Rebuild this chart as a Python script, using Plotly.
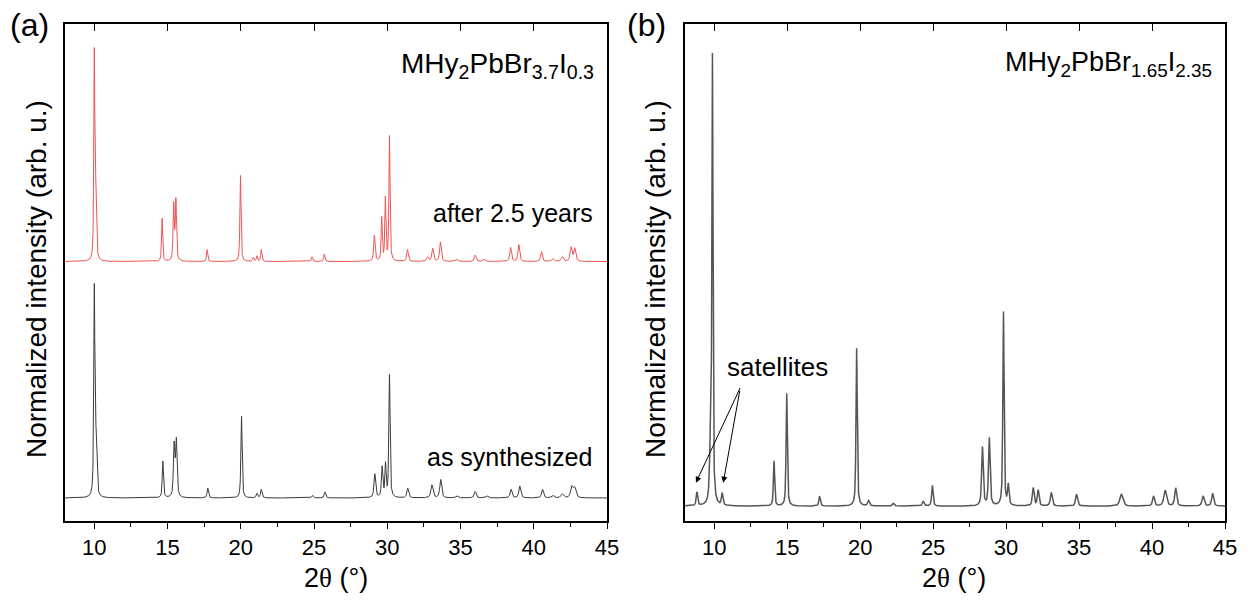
import numpy as np
import plotly.graph_objects as go

# ---------------- data (peak lists) ----------------
# Panel (a) as synthesized: position (2theta), normalized height, FWHM
a_syn_pos = [10.0, 10.12, 14.68, 15.45, 15.6, 17.75, 20.05, 21.1, 21.4, 24.9, 25.75,
             29.15, 29.65, 29.88, 30.15, 31.4, 33.05, 33.65, 34.75, 36.0, 36.8,
             38.45, 39.05, 40.6, 41.3, 41.95, 42.6, 42.8]
a_syn_h = [0.96, 0.25, 0.17, 0.24, 0.26, 0.045, 0.38, 0.02, 0.04, 0.012, 0.028,
           0.11, 0.14, 0.15, 0.57, 0.045, 0.06, 0.085, 0.01, 0.03, 0.01,
           0.04, 0.055, 0.04, 0.012, 0.018, 0.05, 0.045]
a_syn_w = [0.09, 0.12, 0.1, 0.12, 0.12, 0.12, 0.1, 0.12, 0.12, 0.12, 0.12,
           0.14, 0.12, 0.1, 0.1, 0.15, 0.18, 0.16, 0.2, 0.16, 0.2,
           0.16, 0.16, 0.16, 0.2, 0.2, 0.2, 0.2]

# Panel (a) after 2.5 years
a_old_pos = [10.0, 10.1, 14.63, 15.42, 15.57, 17.7, 19.98, 20.85, 21.1, 21.4, 24.86, 25.7,
             29.12, 29.62, 29.87, 30.15, 31.38, 32.75, 33.1, 33.63, 34.73, 36.0, 36.6,
             38.42, 38.98, 40.53, 41.3, 41.95, 42.55, 42.8]
a_old_h = [0.95, 0.3, 0.2, 0.26, 0.28, 0.055, 0.4, 0.018, 0.025, 0.055, 0.022, 0.035,
           0.12, 0.2, 0.29, 0.58, 0.055, 0.02, 0.06, 0.09, 0.01, 0.03, 0.01,
           0.065, 0.078, 0.045, 0.014, 0.022, 0.065, 0.06]
a_old_w = [0.08, 0.1, 0.09, 0.1, 0.1, 0.1, 0.09, 0.1, 0.1, 0.1, 0.1, 0.1,
           0.12, 0.09, 0.09, 0.09, 0.13, 0.15, 0.15, 0.14, 0.2, 0.15, 0.2,
           0.14, 0.14, 0.14, 0.18, 0.18, 0.16, 0.16]

# Panel (b) MHy2PbBr1.65I2.35
b_pos = [8.82, 9.75, 9.88, 10.55, 14.1, 14.97, 17.22, 19.76, 20.58, 22.27, 24.32, 24.95,
         28.38, 28.85, 29.82, 30.15, 31.86, 32.2, 33.1, 34.83, 37.9, 40.1, 40.9,
         41.62, 43.5, 44.15]
b_h = [0.03, 0.12, 0.98, 0.026, 0.1, 0.25, 0.022, 0.35, 0.012, 0.006, 0.01, 0.046,
       0.13, 0.15, 0.43, 0.045, 0.04, 0.035, 0.03, 0.026, 0.026, 0.022, 0.035,
       0.04, 0.022, 0.028]
b_w = [0.12, 0.15, 0.09, 0.12, 0.1, 0.1, 0.12, 0.1, 0.15, 0.15, 0.15, 0.12,
       0.13, 0.13, 0.1, 0.12, 0.14, 0.14, 0.16, 0.16, 0.25, 0.16, 0.22,
       0.16, 0.18, 0.16]

a_offset = 1.1          # vertical offset of the aged pattern
x_ticks = [10, 15, 20, 25, 30, 35, 40, 45]

# ---------------- profile rendering ----------------
tt = np.arange(8.0, 45.0001, 0.01)


def profile(pos, h, w, eta=0.65):
    y = np.zeros_like(tt)
    for p, hh, ww in zip(pos, h, w):
        d = (tt - p) / (ww / 2)
        lor = 1 / (1 + d ** 2)
        gau = np.exp(-np.log(2) * d ** 2)
        y += hh * (eta * lor + (1 - eta) * gau)
    return y


y_syn = profile(a_syn_pos, a_syn_h, a_syn_w)
y_old = profile(a_old_pos, a_old_h, a_old_w) + a_offset
y_b = profile(b_pos, b_h, b_w)

fig = go.Figure()
fig.add_trace(go.Scatter(x=tt, y=y_old, mode="lines", line=dict(color="#f05252", width=1),
                         xaxis="x", yaxis="y", showlegend=False))
fig.add_trace(go.Scatter(x=tt, y=y_syn, mode="lines", line=dict(color="#3a3a3a", width=1),
                         xaxis="x", yaxis="y", showlegend=False))
fig.add_trace(go.Scatter(x=tt, y=y_b, mode="lines", line=dict(color="#555555", width=1.5),
                         xaxis="x2", yaxis="y2", showlegend=False))

# page has an 8px body margin: figure occupies window px 8..1248 x 8..603
OFF = 8
W, H = 1248 - OFF, 603 - OFF


def px(X):
    return (X - OFF) / W


def py(Y):
    return 1 - (Y - OFF) / H


ydom = [py(521), py(24)]
xdom_a = [px(65), px(607)]
xdom_b = [px(685), px(1225)]
font = "Liberation Sans, Arial, sans-serif"

xcommon = dict(range=[8, 45], tickvals=x_ticks, ticks="outside", ticklen=6, tickwidth=1.3,
               tickcolor="black", showline=True, linecolor="black", linewidth=1.5,
               showgrid=False, zeroline=False, mirror=False,
               tickfont=dict(family=font, size=22, color="black"),
               minor=dict(dtick=2.5, tick0=7.5, ticks="outside", ticklen=4, tickwidth=1.2,
                          tickcolor="black", showgrid=False),
               automargin=False)
xtop = dict(range=[8, 45], tickvals=x_ticks, ticks="inside", ticklen=7, tickwidth=1.3,
            tickcolor="black", showline=True, linecolor="black", linewidth=1.5,
            showgrid=False, zeroline=False, showticklabels=False, side="top",
            automargin=False)
ycommon = dict(showticklabels=False, ticks="", showline=True, linecolor="black",
               linewidth=1.5, mirror=True, showgrid=False, zeroline=False, automargin=False)

fig.update_layout(
    width=W, height=H,
    margin=dict(l=0, r=0, t=0, b=0),
    paper_bgcolor="white", plot_bgcolor="white",
    xaxis=dict(domain=xdom_a, anchor="y", **xcommon),
    yaxis=dict(domain=ydom, anchor="x", range=[-0.107, 2.205], **ycommon),
    xaxis2=dict(domain=xdom_b, anchor="y2", **xcommon),
    yaxis2=dict(domain=ydom, anchor="x2", range=[-0.033, 1.069], **ycommon),
    xaxis3=dict(domain=xdom_a, anchor="y", overlaying="x", **xtop),
    xaxis4=dict(domain=xdom_b, anchor="y2", overlaying="x2", **xtop),
)
# dummy traces so top axes render
fig.add_trace(go.Scatter(x=[8], y=[None], xaxis="x3", yaxis="y", showlegend=False, hoverinfo="skip"))
fig.add_trace(go.Scatter(x=[8], y=[None], xaxis="x4", yaxis="y2", showlegend=False, hoverinfo="skip"))


def ann(text, x, y, size, xanchor="center", yanchor="middle", textangle=0):
    fig.add_annotation(text=text, x=px(x), y=py(y), xref="paper", yref="paper",
                       showarrow=False, xanchor=xanchor, yanchor=yanchor, textangle=textangle,
                       font=dict(family=font, size=size, color="black"))


ann("(a)", 29, 25, 32)
ann("(b)", 646, 25, 32)
ann("MHy<sub>2</sub>PbBr<sub>3.7</sub>I<sub>0.3</sub>", 596, 66, 28, xanchor="right")
ann("MHy<sub>2</sub>PbBr<sub>1.65</sub>I<sub>2.35</sub>", 1214, 64, 27, xanchor="right")
ann("after 2.5 years", 595, 213, 25, xanchor="right")
ann("as synthesized", 594, 457, 25, xanchor="right")
ann("Normalized intensity (arb. u.)", 37, 279, 28, textangle=-90)
ann("Normalized intensity (arb. u.)", 656, 279, 28, textangle=-90)
theta = "2<span style='font-family:Liberation Serif, Times New Roman, serif'>θ</span> (°)"
ann(theta, 336, 578, 27)
ann(theta, 954, 578, 27)

fig.add_annotation(text="satellites", x=14.37, y=0.308, xref="x2", yref="y2", showarrow=False,
                   font=dict(family=font, size=26, color="black"))
for tip_x, tail_x, tail_y in [(8.75, 11.82, 0.265), (10.62, 11.77, 0.259)]:
    fig.add_annotation(x=tip_x, y=0.052, ax=tail_x, ay=tail_y, xref="x2", yref="y2",
                       axref="x2", ayref="y2", text="", showarrow=True, arrowhead=2,
                       arrowsize=1.2, arrowwidth=1, arrowcolor="black")

fig.write_html("out.html")
